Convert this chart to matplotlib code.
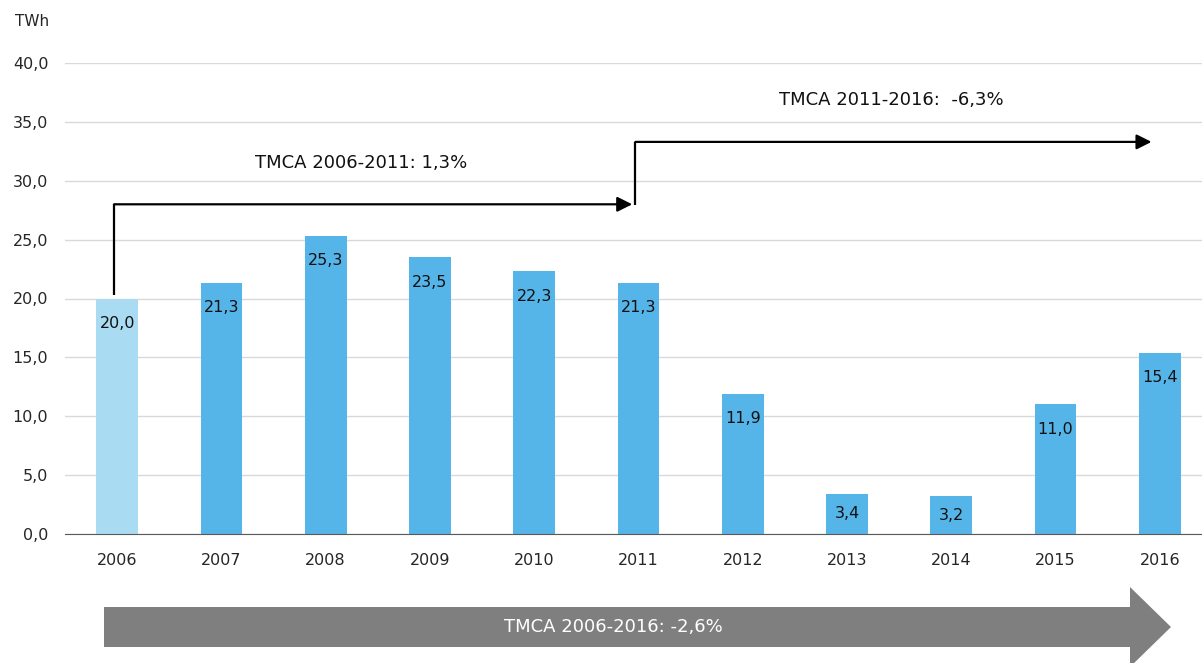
import numpy as np
import matplotlib
matplotlib.use("Agg")
import matplotlib.pyplot as plt
from matplotlib.patches import Polygon

years = ["2006", "2007", "2008", "2009", "2010", "2011", "2012", "2013", "2014", "2015", "2016"]
twh = [20.0, 21.3, 25.3, 23.5, 22.3, 21.3, 11.9, 3.4, 3.2, 11.0, 15.4]
yticks = [0, 5, 10, 15, 20, 25, 30, 35, 40]
tmca_first = "TMCA 2006-2011: 1,3%"
tmca_second = "TMCA 2011-2016:  -6,3%"
tmca_total = "TMCA 2006-2016: -2,6%"

W, H = 1202, 663
plt.rcParams['font.family'] = ['DejaVu Sans']
fig = plt.figure(figsize=(W / 100, H / 100), dpi=100)

# main axes in pixel terms: x 65..1212, y 63..534 (top..bottom)
ax = fig.add_axes([65 / W, (H - 534) / H, (1212 - 65) / W, (534 - 63) / H])
x = np.arange(len(years))
colors = ['#A9DBF3'] + ['#56B5E8'] * (len(years) - 1)
ax.bar(x, twh, width=0.40, color=colors, zorder=2)

# value labels just inside the top of each bar (centred on short bars)
for xi, v in zip(x, twh):
    ax.text(xi, v - min(2.1, v / 2), f"{v:.1f}".replace('.', ','),
            ha='center', va='center', fontsize=11.5, color='#111111', zorder=3)

ax.set_xlim(-0.5, len(years) - 0.5)
ax.set_ylim(0, 40)
ax.set_yticks(yticks)
ax.set_yticklabels([f"{t:.1f}".replace('.', ',') for t in yticks])
ax.set_xticks(x)
ax.set_xticklabels(years)
ax.tick_params(axis='both', length=0, labelsize=11.5, labelcolor='#262626')
ax.tick_params(axis='y', pad=12)
ax.tick_params(axis='x', pad=14)
ax.grid(axis='y', color='#D9D9D9', linewidth=1, zorder=0)
for s in ['top', 'right', 'left']:
    ax.spines[s].set_visible(False)
ax.spines['bottom'].set_color('#595959')
ax.spines['bottom'].set_zorder(3)

# step arrows for the two sub-periods
arrow_kw = dict(arrowstyle='-|>,head_length=0.9,head_width=0.45', color='black',
                lw=1.6, shrinkA=0, shrinkB=0)
ax.plot([-0.03, -0.03], [20.3, 28.0], color='black', lw=1.6, solid_capstyle='butt')
ax.annotate("", xy=(4.94, 28.0), xytext=(-0.03, 28.0), arrowprops=arrow_kw)
ax.plot([4.97, 4.97], [27.9, 33.3], color='black', lw=1.6, solid_capstyle='butt')
ax.annotate("", xy=(9.92, 33.3), xytext=(4.97, 33.3), arrowprops=arrow_kw)

# overlay in pixel coordinates for the unit label and the big grey arrow
ov = fig.add_axes([0, 0, 1, 1], zorder=5)
ov.set_xlim(0, W)
ov.set_ylim(H, 0)
ov.axis('off')
ov.text(15, 22, "TWh", ha='left', va='center', fontsize=11, color='#262626')
ov.text(255, 163, tmca_first, ha='left', va='center', fontsize=13, color='#111111')
ov.text(779, 100, tmca_second, ha='left', va='center', fontsize=13, color='#111111')

body_top, body_bot, mid = 607, 647, 627
head_x, tip_x, head_top, head_bot = 1130, 1171, 587, 667
ov.add_patch(Polygon([(104, body_top), (head_x, body_top), (head_x, head_top),
                      (tip_x, mid), (head_x, head_bot), (head_x, body_bot),
                      (104, body_bot)], closed=True, facecolor='#7F7F7F',
                     edgecolor='none'))
ov.text(613, mid, tmca_total, ha='center', va='center', fontsize=13, color='white')

fig.savefig("out.png", dpi=100)
